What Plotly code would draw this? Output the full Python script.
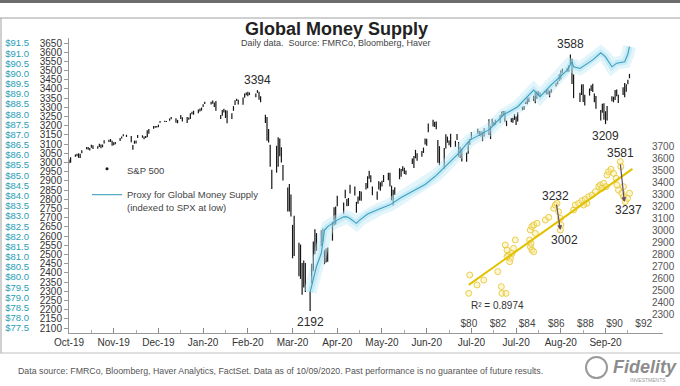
import plotly.graph_objects as go
import pandas as pd
import numpy as np

W, H = 680, 386

# ---------------- data ----------------
# S&P 500 daily high / low, trading days 2019-10-24 .. 2020-10-09
spx_high = [
    3016, 3028, 3044, 3047, 3050, 3047,
    3067, 3084, 3084, 3079, 3097, 3094, 3088, 3102, 3098, 3098, 3121, 3124, 3128, 3118, 3110, 3112, 3134, 3142, 3154, 3151,
    3144, 3095, 3119, 3120, 3150, 3148, 3142, 3144, 3176, 3182, 3198, 3198, 3199, 3206, 3226, 3227, 3226, 3240, 3248, 3241, 3232,
    3258, 3246, 3247, 3245, 3268, 3276, 3282, 3288, 3294, 3299, 3317, 3330, 3330, 3337, 3326, 3334, 3259, 3286, 3293, 3285, 3283,
    3268, 3307, 3338, 3347, 3342, 3353, 3375, 3381, 3385, 3381, 3375, 3394, 3385, 3360, 3260, 3247, 3182, 3097, 2960,
    3091, 3137, 3131, 3083, 2986, 2864, 2883, 2826, 2661, 2711, 2563, 2554, 2454, 2467, 2453, 2301, 2450, 2571, 2637, 2616, 2632, 2641,
    2523, 2533, 2538, 2677, 2757, 2761, 2819, 2783, 2852, 2802, 2807, 2879, 2869, 2786, 2815, 2845, 2843, 2888, 2925, 2955, 2931,
    2869, 2843, 2898, 2892, 2901, 2932, 2945, 2945, 2874, 2852, 2865, 2969, 2965, 2980, 2971, 2957, 3022, 3036, 3069, 3050,
    3063, 3081, 3131, 3129, 3212, 3233, 3222, 3223, 3123, 3089, 3079, 3154, 3141, 3120, 3156, 3118, 3155, 3112, 3084, 3074, 3054, 3112,
    3128, 3166, 3183, 3172, 3170, 3168, 3186, 3235, 3200, 3238, 3220, 3233, 3259, 3277, 3280, 3280, 3228, 3241, 3243, 3263, 3250, 3273,
    3303, 3307, 3331, 3352, 3353, 3363, 3382, 3388, 3388, 3381, 3388, 3395, 3399, 3390, 3400, 3432, 3445, 3482, 3501, 3510, 3514,
    3529, 3588, 3565, 3479, 3380, 3425, 3426, 3369, 3403, 3420, 3429, 3375, 3362, 3286, 3320, 3323, 3279, 3307, 3361, 3358, 3394,
    3397, 3369, 3410, 3432, 3426, 3450, 3482,
]
spx_low = [
    2996, 2999, 3032, 3034, 3025, 3024,
    3050, 3072, 3070, 3065, 3080, 3073, 3075, 3084, 3078, 3083, 3104, 3112, 3112, 3091, 3094, 3099, 3117, 3131, 3143, 3139,
    3110, 3070, 3102, 3103, 3134, 3135, 3126, 3133, 3138, 3157, 3184, 3189, 3190, 3192, 3216, 3220, 3220, 3227, 3235, 3216, 3213,
    3236, 3223, 3215, 3233, 3236, 3263, 3260, 3268, 3277, 3282, 3302, 3318, 3316, 3320, 3302, 3281, 3236, 3254, 3272, 3242, 3214,
    3236, 3281, 3313, 3335, 3316, 3314, 3352, 3366, 3360, 3367, 3355, 3379, 3341, 3328, 3215, 3119, 3109, 2977, 2856,
    2945, 2977, 3034, 3000, 2902, 2734, 2734, 2707, 2479, 2492, 2381, 2367, 2281, 2320, 2296, 2192, 2344, 2408, 2501, 2520, 2545, 2571,
    2447, 2456, 2460, 2575, 2658, 2663, 2762, 2721, 2805, 2762, 2764, 2831, 2820, 2727, 2776, 2794, 2792, 2853, 2860, 2912, 2893,
    2822, 2798, 2853, 2846, 2870, 2894, 2903, 2870, 2794, 2766, 2823, 2909, 2922, 2953, 2938, 2934, 2992, 2970, 3023, 3010,
    3032, 3052, 3098, 3091, 3164, 3196, 3193, 3181, 2999, 2985, 2966, 3076, 3108, 3094, 3083, 3084, 3122, 3032, 3025, 3005, 3004, 3048,
    3097, 3124, 3156, 3144, 3142, 3116, 3141, 3150, 3128, 3200, 3199, 3205, 3215, 3247, 3254, 3222, 3198, 3219, 3216, 3232, 3204, 3223,
    3284, 3287, 3318, 3317, 3329, 3336, 3323, 3347, 3363, 3357, 3379, 3371, 3370, 3355, 3380, 3414, 3425, 3444, 3452, 3485, 3494,
    3494, 3535, 3427, 3350, 3329, 3367, 3329, 3310, 3364, 3389, 3384, 3328, 3292, 3229, 3271, 3233, 3209, 3228, 3333, 3328, 3340,
    3361, 3324, 3367, 3355, 3385, 3426, 3458,
]
market_holidays = ["2019-11-28", "2019-12-25", "2020-01-01", "2020-01-20", "2020-02-17",
                   "2020-04-10", "2020-05-25", "2020-07-03", "2020-09-07"]
trade_dates = pd.bdate_range("2019-10-24", "2020-10-09", freq="C", holidays=market_holidays)

# Proxy for global money supply ($ trillions, left teal axis)
proxy_dates = ["2020-03-23", "2020-03-25", "2020-03-27", "2020-03-30", "2020-03-31", "2020-04-01", "2020-04-03",
               "2020-04-06", "2020-04-09", "2020-04-13", "2020-04-15", "2020-04-17", "2020-04-21", "2020-04-23",
               "2020-04-28", "2020-05-05", "2020-05-12", "2020-05-19", "2020-05-27", "2020-06-03", "2020-06-10",
               "2020-06-17", "2020-06-24", "2020-07-01", "2020-07-13", "2020-07-22", "2020-07-31", "2020-08-10",
               "2020-08-14", "2020-08-21", "2020-08-31", "2020-09-03", "2020-09-04", "2020-09-08", "2020-09-11",
               "2020-09-16", "2020-09-21", "2020-09-24", "2020-09-28", "2020-10-01", "2020-10-06", "2020-10-08",
               "2020-10-09"]
proxy_usd = [79.26, 79.86, 80.52, 81.17, 81.84, 82.31, 82.48, 82.64, 82.80, 82.96, 82.96, 82.88, 82.64, 82.80,
             83.10, 83.33, 83.55, 83.91, 84.27, 84.55, 85.00, 85.54, 86.08, 86.73, 87.23, 87.96, 88.37, 89.19,
             88.86, 89.44, 90.17, 90.58, 90.33, 90.25, 90.42, 90.67, 91.02, 90.82, 90.33, 90.51, 90.58, 90.96,
             91.32]

# Inset scatter: money supply ($) vs S&P 500
inset_usd = [80.06, 79.99, 80.56, 81.02, 81.98, 82.23, 82.27, 82.55, 82.50, 82.62, 82.73, 82.85, 82.62, 82.96,
             83.07, 83.19, 82.80, 84.22, 84.33, 84.45, 84.68, 84.17, 84.22, 84.33, 84.45, 84.26, 84.56, 85.25,
             85.48, 85.82, 85.93, 86.16, 86.28, 86.32, 86.28, 86.05, 87.19, 87.30, 87.53, 87.76, 87.99, 88.10,
             87.88, 88.22, 88.45, 88.68, 88.91, 89.02, 89.25, 89.41, 89.13, 89.48, 89.59, 89.75, 89.93, 90.16,
             90.27, 90.50, 90.61, 90.73, 90.89, 91.03, 90.39, 90.43, 90.11, 90.61]
inset_spx = [2625, 2472, 2542, 2583, 2653, 2528, 2472, 2472, 2875, 2833, 2792, 2764, 2778, 2806,
             2847, 2917, 2736, 3000, 3028, 3042, 3056, 2917, 2861, 2833, 2819, 2889, 2972, 3083,
             3106, 3181, 3208, 3153, 3097, 3042, 3000, 3222, 3167, 3208, 3222, 3244, 3256, 3222,
             3208, 3278, 3292, 3319, 3361, 3375, 3389, 3361, 3347, 3458, 3486, 3506, 3472, 3375,
             3333, 3306, 3278, 3236, 3264, 3306, 3569, 3528, 3431, 3361]
r_squared_label = "R² = 0.8974"
inset_callouts = [  # (label, text $, text spx)
    ("3232", 85.93, 3283), ("3002", 86.55, 2917), ("3581", 90.39, 3642), ("3237", 90.94, 3167)]
inset_arrows = [  # (tail $, tail spx, head $, head spx)
    (86.00, 3225, 86.28, 3000), (90.39, 3558, 90.67, 3233)]

month_labels = ["Oct-19", "Nov-19", "Dec-19", "Jan-20", "Feb-20", "Mar-20", "Apr-20",
                "May-20", "Jun-20", "Jul-20", "Jul-20", "Aug-20", "Sep-20"]

assert len(spx_high) == len(spx_low) == len(trade_dates), (len(spx_high), len(spx_low), len(trade_dates))

# ---------------- helpers ----------------
def px(x):
    return x / W


def py(y):
    return 1 - y / H


FONT = "Liberation Sans, Arial, sans-serif"
TEAL = "#2a9db5"

tick_dates = pd.date_range("2019-10-24", periods=len(month_labels), freq="28D")
minor_dates = pd.date_range("2019-11-07", periods=len(month_labels), freq="28D")

# main y scale: 3650 at y=43px, 2100 at y=328px
y_top_px, y_bot_px = 38, 333
k = (328 - 43) / (3650 - 2100)
spx_rng = [2100 - (y_bot_px - 328) / k, 3650 + (43 - y_top_px) / k]
usd_per_pt = 14 / 1550
usd_rng = [77.5 + (spx_rng[0] - 2100) * usd_per_pt, 77.5 + (spx_rng[1] - 2100) * usd_per_pt]

fig = go.Figure()

# glow behind the proxy line
fig.add_trace(go.Scatter(x=proxy_dates, y=proxy_usd, yaxis="y2", mode="lines",
                         line=dict(color="rgba(190,232,246,0.45)", width=13), hoverinfo="skip", showlegend=False))
fig.add_trace(go.Scatter(x=proxy_dates, y=proxy_usd, yaxis="y2", mode="lines",
                         line=dict(color="rgba(160,220,240,0.40)", width=6), hoverinfo="skip", showlegend=False))

# S&P 500 high-low bars
bx, by = [], []
for d, lo, hi in zip(trade_dates, spx_low, spx_high):
    bx += [d, d, None]
    by += [lo, hi, None]
fig.add_trace(go.Scatter(x=bx, y=by, mode="lines", line=dict(color="#151515", width=1.2),
                         showlegend=False, hoverinfo="skip"))
fig.add_trace(go.Scatter(x=[None], y=[None], mode="markers", marker=dict(color="#151515", size=3),
                         name="S&P 500", legendgroup="a"))

# proxy line
fig.add_trace(go.Scatter(x=proxy_dates, y=proxy_usd, yaxis="y2", mode="lines",
                         line=dict(color="#3c9fbf", width=1.1), legendgroup="b",
                         name="Proxy for Global Money Supply<br>(indexed to SPX at low)"))

# inset scatter + trend
fig.add_trace(go.Scatter(x=inset_usd, y=inset_spx, xaxis="x2", yaxis="y3", mode="markers",
                         marker=dict(size=6, color="rgba(250,235,150,0.40)",
                                     line=dict(color="rgba(230,198,50,0.85)", width=1)),
                         showlegend=False, hoverinfo="skip"))
coef = np.polyfit(inset_usd, inset_spx, 1)
tx = np.array([min(inset_usd), max(inset_usd) + 0.2])
fig.add_trace(go.Scatter(x=tx, y=np.polyval(coef, tx), xaxis="x2", yaxis="y3", mode="lines",
                         line=dict(color="#e2c200", width=2), showlegend=False, hoverinfo="skip"))

annotations = []
# main chart value labels
i_hi = int(np.argmax(spx_high))
i_lo = int(np.argmin(spx_low))
i_feb = int(np.argmax(spx_high[:100]))
i_sep = list(trade_dates).index(pd.Timestamp("2020-09-24"))
for i, val, shift in [(i_feb, spx_high[i_feb], 10), (i_lo, spx_low[i_lo], -11),
                      (i_hi, spx_high[i_hi], 10), (i_sep, spx_low[i_sep], -12)]:
    annotations.append(dict(x=trade_dates[i], y=val, xref="x", yref="y", text=str(val), showarrow=False,
                            xanchor="center", yanchor="middle", yshift=shift,
                            font=dict(family=FONT, size=12, color="#2a2a2a")))

# inset callouts
for lab, xv, yv in inset_callouts:
    annotations.append(dict(x=xv, y=yv, xref="x2", yref="y3", text=lab, showarrow=False,
                            xanchor="center", yanchor="middle",
                            font=dict(family=FONT, size=12, color="#2a2a2a")))
for x0, y0, x1, y1 in inset_arrows:
    annotations.append(dict(x=x1, y=y1, ax=x0, ay=y0, xref="x2", yref="y3", axref="x2", ayref="y3",
                            text="", showarrow=True, arrowhead=2, arrowsize=0.8, arrowwidth=1.2,
                            arrowcolor="#5e4d6e"))
annotations.append(dict(x=81.95, y=2375, xref="x2", yref="y3", text=r_squared_label, showarrow=False,
                        xanchor="center", yanchor="middle", font=dict(family=FONT, size=10, color="#333")))


def paper_text(x, y, text, size, color, xanchor="center", family=FONT):
    return dict(x=px(x), y=py(y), xref="paper", yref="paper", text=text, showarrow=False,
                xanchor=xanchor, yanchor="middle", font=dict(family=family, size=size, color=color))


annotations += [
    paper_text(336, 29, "<b>Global Money Supply</b>", 18, "#222"),
    paper_text(336, 43, "Daily data.  Source: FMRCo, Bloomberg, Haver", 9, "#444"),
    paper_text(16, 371, "Data source: FMRCo, Bloomberg, Haver Analytics, FactSet. Data as of 10/09/2020. "
                        "Past performance is no guarantee of future results.", 8.8, "#555", xanchor="left",
               family="Liberation Sans Narrow, " + FONT),
    paper_text(645, 367, "<b><i>Fidelity</i></b>", 18, "#8c8c8c"),
    paper_text(648, 380, "INVESTMENTS", 5, "#9a9a9a"),
]

shapes = [
    dict(type="rect", xref="paper", yref="paper", x0=0, x1=1, y0=py(3), y1=1,
         fillcolor="#6d6d6d", line=dict(width=0)),
    dict(type="line", xref="paper", yref="paper", x0=0, x1=1, y0=py(18), y1=py(18),
         line=dict(color="#a0a0a0", width=1)),
    dict(type="line", xref="paper", yref="paper", x0=px(1), x1=px(1), y0=py(18), y1=py(353),
         line=dict(color="#a0a0a0", width=1)),
    dict(type="line", xref="paper", yref="paper", x0=0, x1=1, y0=py(353), y1=py(353),
         line=dict(color="#c0c0c0", width=1)),
    dict(type="circle", xref="paper", yref="paper", x0=px(586), x1=px(607), y0=py(378), y1=py(357),
         line=dict(color="#9a9a9a", width=2)),
]

fig.update_layout(
    template="none",
    width=W, height=H, autosize=False,
    margin=dict(l=0, r=0, t=0, b=0, pad=0),
    paper_bgcolor="white", plot_bgcolor="rgba(0,0,0,0)",
    font=dict(family=FONT, color="#333"),
    showlegend=True,
    legend=dict(x=px(87), y=py(156), xanchor="left", yanchor="top", font=dict(family=FONT, size=9.5, color="#444"),
                bgcolor="rgba(0,0,0,0)", borderwidth=0, itemwidth=30, valign="top",
                traceorder="grouped", tracegroupgap=7),
    xaxis=dict(domain=[px(69), px(663)], range=["2019-10-24", "2020-10-30"], type="date", anchor="y",
               automargin=False, tickmode="array", tickvals=tick_dates, ticktext=month_labels,
               ticks="inside", ticklen=5, tickcolor="#888", showline=True, linecolor="#999", linewidth=1,
               showgrid=False, zeroline=False, tickfont=dict(family=FONT, size=10, color="#333"),
               minor=dict(tickmode="array", tickvals=minor_dates, ticks="inside", ticklen=3, tickcolor="#aaa")),
    yaxis=dict(domain=[py(y_bot_px), py(y_top_px)], range=spx_rng, anchor="x", automargin=False,
               tick0=2100, dtick=50,
               ticks="outside", ticklen=4, tickcolor="#999", showline=True, linecolor="#999", linewidth=1,
               showgrid=False, zeroline=False, tickfont=dict(family=FONT, size=10, color="#333")),
    yaxis2=dict(overlaying="y", anchor="free", position=px(29), side="left", range=usd_rng, automargin=False,
                tick0=77.5, dtick=0.5, tickprefix="$", tickformat=".1f", ticks="", showline=False,
                showgrid=False, zeroline=False, tickfont=dict(family=FONT, size=9.5, color=TEAL)),
    xaxis2=dict(domain=[px(447), px(651)], anchor="y3", range=[78.5, 92.5], tick0=80, dtick=2, automargin=False,
                tickprefix="$", ticks="", showline=False, showgrid=False, zeroline=False,
                tickfont=dict(family=FONT, size=10, color="#444")),
    yaxis3=dict(domain=[py(316), py(140)], anchor="x2", side="right", range=[2283.3, 3750], automargin=False,
                tick0=2300, dtick=100, ticks="", showline=False, showgrid=False, zeroline=False,
                tickfont=dict(family=FONT, size=10, color="#555")),
    annotations=annotations,
    shapes=shapes,
)

fig.write_html("out.html", config={"displayModeBar": False}, post_script=(
    "document.documentElement.style.overflow='hidden';"
    "document.body.style.overflow='hidden';document.body.style.margin='0';"))
